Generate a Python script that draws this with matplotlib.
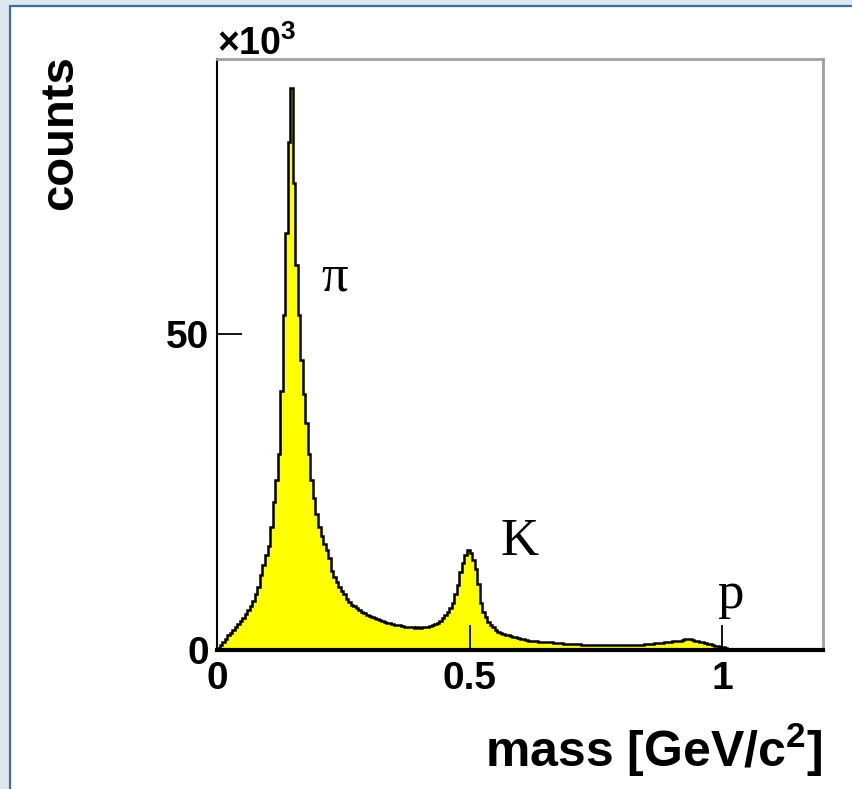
import numpy as np
import matplotlib.pyplot as plt
from matplotlib.patches import Rectangle

plt.rcParams['font.family'] = ['Liberation Sans', 'DejaVu Sans']
plt.rcParams['mathtext.fontset'] = 'custom'
plt.rcParams['mathtext.rm'] = 'Liberation Sans'
plt.rcParams['mathtext.bf'] = 'Liberation Sans:bold'

# histogramme de massa, bins de 0.005 GeV/c^2, contagens em milhares
bin_width = 0.005
counts_k = [
    0.3, 0.8, 1.3, 1.8, 2.3, 2.7, 3.1, 3.6, 4.1, 4.6, 5.1, 5.7, 6.3, 7.0, 7.8, 8.8, 10.0, 11.8, 13.5, 15.0,
    16.5, 19.5, 23.5, 27.0, 31.0, 41.0, 53.0, 66.0, 80.5, 89.0, 74.0, 61.0, 53.0, 46.0, 40.5, 36.0, 31.0, 27.0, 24.0, 21.5,
    19.5, 18.0, 16.8, 15.8, 14.5, 12.5, 11.5, 10.8, 10.0, 9.3, 8.8, 8.0, 7.6, 7.2, 6.9, 6.6, 6.3, 6.0, 5.8, 5.6,
    5.4, 5.2, 5.0, 4.85, 4.7, 4.55, 4.4, 4.3, 4.2, 4.1, 4.0, 4.0, 3.9, 3.8, 3.7, 3.7, 3.6, 3.6, 3.5, 3.6,
    3.5, 3.6, 3.7, 3.7, 3.8, 3.9, 4.1, 4.3, 4.6, 5.0, 5.5, 6.0, 6.6, 7.5, 8.8, 10.3, 12.3, 13.8, 15.0, 15.8,
    15.3, 14.2, 12.8, 10.5, 7.5, 6.0, 5.2, 4.5, 4.0, 3.6, 3.2, 2.9, 2.7, 2.5, 2.4, 2.3, 2.2, 2.1, 2.0, 1.9,
    1.8, 1.7, 1.6, 1.5, 1.5, 1.4, 1.4, 1.3, 1.3, 1.3, 1.2, 1.2, 1.2, 1.1, 1.1, 1.1, 1.1, 1.0, 1.0, 1.0,
    0.9, 0.9, 0.9, 0.9, 0.85, 0.85, 0.85, 0.8, 0.8, 0.8, 0.8, 0.8, 0.8, 0.8, 0.8, 0.8, 0.8, 0.8, 0.8, 0.8,
    0.8, 0.8, 0.8, 0.8, 0.8, 0.8, 0.8, 0.8, 0.85, 0.9, 1.0, 1.0, 1.0, 1.1, 1.1, 1.1, 1.1, 1.2, 1.3, 1.3,
    1.4, 1.4, 1.5, 1.5, 1.6, 1.7, 1.8, 1.7, 1.6, 1.5, 1.4, 1.3, 1.2, 1.1, 1.0, 0.9, 0.8, 0.7, 0.6, 0.5,
    0.4, 0.3, 0.2, 0.15, 0.15, 0.15, 0.15, 0.12, 0.12, 0.12, 0.12, 0.1, 0.1, 0.1, 0.1, 0.1, 0.1, 0.1, 0.1, 0.1,
    0.1, 0.1, 0.1, 0.1, 0.1, 0.1, 0.1, 0.1, 0.1, 0.1, 0.08, 0.08, 0.08, 0.08, 0.08, 0.08, 0.08, 0.08, 0.08, 0.08,
]
x_ticks = [0, 0.5, 1]
x_tick_labels = ['0', '0.5', '1']
y_ticks = [0, 50]
y_tick_labels = ['0', '50']
peak_labels = ['π', 'K', 'p']
peak_pos = [(0.232, 57.0), (0.60, 15.1), (1.016, 6.6)]

counts_k = np.array(counts_k)
edges = np.arange(len(counts_k) + 1) * bin_width

fig = plt.figure(figsize=(8.52, 7.89), dpi=100)
fig.patch.set_facecolor('#dde7f0')
fig.patches.append(Rectangle((9.5/852, -0.05), 1.0, (1 - 6/789) + 0.05,
                             transform=fig.transFigure, facecolor='white',
                             edgecolor='#3a6ea5', linewidth=1.6, zorder=-10))

ax = fig.add_axes([217/852, (789-650)/789, 606/852, 591/789])
ax.patch.set_alpha(0)
ax.stairs(counts_k, edges, fill=True, facecolor='#ffff00', edgecolor='none')
ax.stairs(counts_k, edges, color='black', linewidth=1.8, baseline=None)

ax.set_xlim(0, 1.2)
ax.set_ylim(0, 93.6)
ax.set_xticks(x_ticks)
ax.set_xticklabels(x_tick_labels, fontweight='bold')
ax.set_yticks(y_ticks)
ax.set_yticklabels(y_tick_labels, fontweight='bold')
ax.tick_params(direction='in', length=18, width=1.3, labelsize=28, pad=6)
ax.tick_params(axis='x', pad=8)

ax.spines['left'].set_linewidth(1.5)
ax.spines['bottom'].set_linewidth(3)
for s in ['top', 'right']:
    ax.spines[s].set_color('#a0a0a0')
    ax.spines[s].set_linewidth(2)

for lab, (px, py) in zip(peak_labels, peak_pos):
    ax.text(px, py, lab, family='Liberation Serif', fontsize=38,
            ha='center', va='baseline')

fig.text(217/852, 1 - 55/789, '×10$^{\\mathbf{3}}$', fontsize=27,
         fontweight='bold', ha='left', va='baseline')
fig.text(60/852, 1 - 55/789, 'counts', fontsize=34, fontweight='bold',
         rotation=90, ha='center', va='top')
fig.text(822/852, 1 - 750/789, 'mass [GeV/c$^{\\mathbf{2}}$]', fontsize=36,
         fontweight='bold', ha='right', va='center')

fig.savefig('out.png', dpi=100, facecolor=fig.get_facecolor())
